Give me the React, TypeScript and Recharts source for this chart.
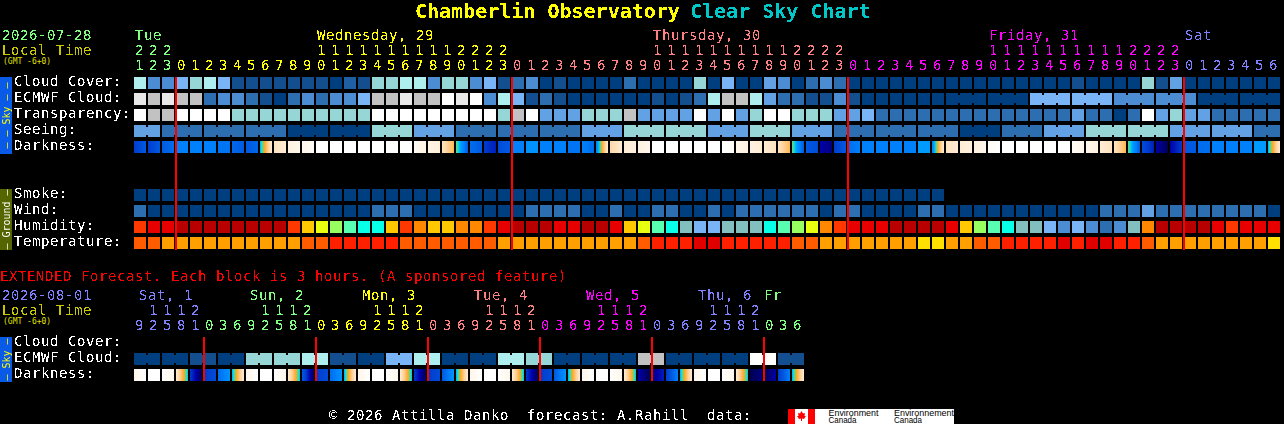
import React from "react";
import { ScatterChart, Scatter, XAxis, YAxis } from "recharts";

const FONT = "'DejaVu Sans Mono', monospace";
const TEXT = { fontFamily: FONT, fontSize: 14, letterSpacing: 0.57 };

// ---------- categories ----------
const mainHours = [21,22,23,0,1,2,3,4,5,6,7,8,9,10,11,12,13,14,15,16,17,18,19,20,21,22,23,0,1,2,3,4,5,6,7,8,9,10,11,12,13,14,15,16,17,18,19,20,21,22,23,0,1,2,3,4,5,6,7,8,9,10,11,12,13,14,15,16,17,18,19,20,21,22,23,0,1,2,3,4,5,6];
const mainDayLabels = ["Tue", "Wednesday, 29", "Thursday, 30", "Friday, 31", "Sat"];
const mainDayCols = [0, 13, 37, 61, 75];
const mainMidnights = [3, 27, 51, 75];
const mainRowNames = ["Cloud Cover:", "ECMWF Cloud:", "Transparency:", "Seeing:", "Darkness:", "", "", "Smoke:", "Wind:", "Humidity:", "Temperature:"];

const extHours = [9,12,15,18,21,0,3,6,9,12,15,18,21,0,3,6,9,12,15,18,21,0,3,6,9,12,15,18,21,0,3,6,9,12,15,18,21,0,3,6,9,12,15,18,21,0,3,6];
const extDayLabels = ["Sat, 1", "Sun, 2", "Mon, 3", "Tue, 4", "Wed, 5", "Thu, 6", "Fr"];
const extDayCols = [0.29, 8.22, 16.22, 24.22, 32.22, 40.22, 44.93];
const extMidnights = [5, 13, 21, 29, 37, 45];
const extRowNames = ["Cloud Cover:", "ECMWF Cloud:", "Darkness:"];

// ---------- series values (sky level 0 = clear ... 11 = overcast) ----------
const cloudCover = [8,4,4,6,7,8,6,1,1,1,1,1,1,1,0,2,1,7,7,8,8,4,7,7,4,6,1,3,4,0,1,0,0,0,0,3,0,0,0,0,7,0,6,0,0,5,4,0,3,4,3,0,0,0,0,0,0,0,0,0,0,0,0,0,0,0,0,1,0,0,0,0,7,1,5,0,0,0,0,0,0,0];
const ecmwfCloud = [10,9,10,9,9,3,4,4,3,1,0,3,4,3,4,4,6,9,9,10,9,9,11,10,11,4,8,6,1,3,1,0,0,0,0,0,0,1,0,1,3,8,9,9,8,5,3,3,1,1,4,1,0,0,0,0,0,0,0,0,0,0,0,0,6,6,6,6,6,6,4,4,4,4,4,4,0,0,0,0,0,0];
const transparency = [11,9,9,11,11,11,11,7,7,7,7,7,7,7,7,7,7,11,11,11,11,11,11,11,11,11,7,9,11,5,5,5,7,7,7,9,5,5,5,5,11,5,11,5,7,11,11,7,7,7,5,5,6,3,3,3,3,3,3,3,3,3,3,3,3,3,3,5,3,3,0,3,11,5,7,5,5,3,3,3,3,3];
const seeing = [5,5,3,3,3,3,3,3,3,3,3,0,0,0,0,0,0,7,7,7,5,5,5,3,3,3,3,3,3,3,3,3,5,5,5,7,7,7,7,7,7,5,5,5,7,7,7,5,5,5,3,3,3,3,3,3,3,3,3,0,0,0,3,3,3,5,5,5,7,7,7,7,7,7,5,5,5,5,5,5,3,3];
const darkStart = [
  2,2,3,4,4,4,3.7,3.4,3,5,
  8.5,9.5,10,11,11,11,11,11,11,11,
  10.5,9.7,8.5,6,3.5,2,2.5,4,4.5,4,
  4,3.7,4,4,8,9,9.5,11,11,11,
  11,11,11,10,9.5,9,8.5,6,3,1,
  2,3.5,4,4,4,4,4.7,4,8.5,9,
  9.5,10.5,11,11,11,11,11,10.5,10,9,
  8.5,6,2.5,1,1,3,3.5,4,4,4,
  4.7,5,
];
const darkEnd = [
  3,3,3.5,4,4,4,3.7,3,3.3,9,
  9,10,10.5,11,11,11,11,11,11,11,
  9.7,9.3,7,3,3,1.5,3,4,4.5,4,
  4,3.7,3.5,9,9,9.5,10,11,11,11,
  11,11,10.5,9.5,9,8.5,7,3,2.5,0.5,
  3,4,4,4,4,4,4.7,9,9,9.5,
  10,11,11,11,11,11,11,10,9.5,8.5,
  7,3,1.5,0,2,3,3.5,4,4,4,
  4.7,9,
];
const smoke = [0,0,0,0,0,0,0,0,0,0,0,0,0,0,0,0,0,0,0,0,0,0,0,0,0,0,0,0,0,0,0,0,0,0,0,0,0,0,0,0,0,0,0,0,0,0,0,0,0,0,0,0,0,0,0,0,0,0];
const wind = [3,0,0,0,0,0,0,0,0,0,0,0,0,0,0,0,0,3,3,3,0,0,0,0,0,0,0,0,3,3,3,3,0,0,3,0,0,3,3,0,0,3,0,3,3,3,3,3,3,0,3,3,0,0,0,0,3,3,0,0,0,0,0,0,0,0,0,0,0,3,3,3,5,3,3,3,3,3,3,3,3,0];
const humidity = ["c","b","b","a","a","a","a","a","a","a","a","c","e","f","g","h","i","i","e","c","d","e","e","d","d","c","b","a","a","a","b","b","a","a","b","e","f","h","i","j","k","k","j","j","j","i","h","g","f","d","c","b","b","b","a","a","a","a","b","e","g","h","i","j","j","k","l","k","l","m","l","j","d","a","a","a","a","b","c","b","b","b"];
const temperature = ["O","O","A","A","A","A","A","A","A","A","A","A","O","O","R","R","R","R","R","O","O","O","O","O","O","O","A","A","A","A","A","A","A","A","A","A","O","R","R","R","D","D","R","R","R","R","R","O","O","A","A","A","A","A","A","A","Y","Y","A","A","O","O","R","R","R","R","D","R","D","D","R","R","O","A","A","A","A","A","A","A","A","Y"];

const extEcmwf = [0,0,0,0,1,1,0,0,7,7,7,7,8,8,1,1,0,0,6,6,8,8,0,0,0,0,8,8,7,7,0,0,0,0,0,0,9,9,0,0,0,0,0,0,11,11,1,1];
const extDarkStart = [10,11,11,9,2,2,3.5,5,10,11,11,9,3,2,3.5,5,10,11,11,9,2,2,3,5,10,11,11,9,2,2,3,5,10,11,11,9,1,0.5,2,5,10,11,11,9,0,0,2,5];
const extDarkEnd = [11,11,10,5.2,0,2.5,4.5,9,11,11,10,5.2,0,2.5,4.5,9,11,11,10,5.2,0,2.5,4.5,9,11,11,10,5.2,0,2.5,4.5,9,11,11,10,5.2,0,1.5,4,9,11,11,10,5.2,0.5,1,4,9];

// ---------- palettes ----------
const skyColors = ["#003f7f","#134f8f","#1f60a5","#2c6eb0","#4b8cd2","#62a1e4","#79b5f6","#96d6d6","#aeeeee","#c2c2c2","#e8e8e8","#ffffff"];
const humidityColors: Record<string,string> = {a:"#b80000",b:"#e80000",c:"#ff3800",d:"#ff8800",e:"#ffc800",f:"#e8ff10",g:"#98ff60",h:"#58ffb0",i:"#08ffe8",j:"#82c0c0",k:"#79b5f6",l:"#4b8cd2",m:"#2c6eb0"};
const tempColors: Record<string,string> = {D:"#e00000",R:"#ff2000",O:"#ff5c00",A:"#ffa000",Y:"#ffe000"};
const darkStops: [number, number[]][] = [[0,[0,0,80]],[1,[0,0,170]],[2,[0,60,205]],[3,[0,90,225]],[4,[0,128,250]],[5,[0,165,255]],[5.5,[16,224,224]],[6,[128,208,96]],[6.5,[255,168,40]],[8,[255,216,168]],[9,[255,236,212]],[10,[255,246,234]],[11,[255,255,255]]];
const dayColors = ["#80ff80", "#ffff00", "#ff8080", "#ff00ff", "#8080ff"];
const OLIVE = "#c8c800";

const darkColor = (v: number) => {
  for (let k = 1; k < darkStops.length; k++) {
    const [b, cb] = darkStops[k];
    const [a, ca] = darkStops[k - 1];
    if (v <= b) {
      const t = (v - a) / (b - a);
      return `rgb(${ca.map((c, j) => Math.round(c + (cb[j] - c) * t)).join(",")})`;
    }
  }
  return "#ffffff";
};

const mainColor = (col: number) => (col < 3 ? dayColors[0] : col < 27 ? dayColors[1] : col < 51 ? dayColors[2] : col < 75 ? dayColors[3] : dayColors[4]);
const extColorSeq = [dayColors[4], dayColors[0], dayColors[1], dayColors[2], dayColors[3], dayColors[4], dayColors[0]];
const extColor = (col: number) => extColorSeq[col < 5 ? 0 : Math.floor((col - 5) / 8) + 1];
const extDayColor = (i: number) => extColorSeq[i];

// ---------- table building ----------
const CELL = 12;
const fromLevels = (values: (number | string)[], row: number, colorOf: (v: any) => string, joined?: (c: number) => boolean) =>
  values.map((v, col) => ({ col, row, fill: colorOf(v), join: joined ? joined(col) && col < values.length - 1 : false }));
const sky = (v: number) => skyColors[v];

const mainRows = [
  fromLevels(cloudCover, 0, sky),
  fromLevels(ecmwfCloud, 1, sky, (c) => c >= 58 && c % 3 !== 0),
  fromLevels(transparency, 2, sky),
  fromLevels(seeing, 3, sky, (c) => c % 3 !== 1),
  darkStart.map((s, col) => ({ col, row: 4, from: s, to: darkEnd[col] })),
  fromLevels(smoke, 7, sky),
  fromLevels(wind, 8, sky),
  fromLevels(humidity, 9, (v) => humidityColors[v]),
  fromLevels(temperature, 10, (v) => tempColors[v]),
];
const extRows = [
  fromLevels(extEcmwf, 1, sky, (c) => c % 2 === 0),
  extDarkStart.map((s, col) => ({ col, row: 2, from: s, to: extDarkEnd[col] })),
];

const Cell = (p: any) => {
  const { cx, cy, payload } = p;
  const x = cx, y = cy;
  if (payload.from !== undefined) {
    const id = `g${Math.round(x)}-${Math.round(y)}`;
    const offs = [0, 0.125, 0.25, 0.375, 0.5, 0.625, 0.75, 0.875, 1];
    return (
      <g>
        <linearGradient id={id} x1="0" x2="1" y1="0" y2="0">
          {offs.map((o) => (
            <stop key={o} offset={o} stopColor={darkColor(payload.from + (payload.to - payload.from) * o)} />
          ))}
        </linearGradient>
        <rect x={x} y={y} width={CELL} height={CELL} fill={`url(#${id})`} />
      </g>
    );
  }
  return (
    <g>
      <rect x={x} y={y} width={CELL} height={CELL} fill={payload.fill} />
      {payload.join && <rect x={x + CELL} y={y + 2} width={2} height={CELL - 4} fill={payload.fill} />}
    </g>
  );
};
const Blank = () => null;
const Midnight = (len: number) => (p: any) => <rect x={p.cx - 1} y={p.cy} width={2} height={len} fill="#ff0000" />;

const txt = (x: number, y: number, s: string, fill: string, extra: any = {}) => (
  <text x={x} y={y} fill={fill} {...TEXT} {...extra}>{s}</text>
);

const OnesTick = (base: number, hours: number[], colorOf: (c: number) => string) => (p: any) => {
  const c = p.payload.value;
  return <text x={p.x + 5.5} y={base} textAnchor="middle" fill={colorOf(c)} {...TEXT}>{hours[c] % 10}</text>;
};
const TensTick = (base: number, hours: number[], colorOf: (c: number) => string) => (p: any) => {
  const c = p.payload.value;
  return <text x={p.x + 5.5} y={base} textAnchor="middle" fill={colorOf(c)} {...TEXT}>{Math.floor(hours[c] / 10)}</text>;
};
const DayTick = (base: number, cols: number[], labels: string[], colorOf: (i: number) => string) => (p: any) => {
  const i = cols.indexOf(p.payload.value);
  return <text x={p.x + 1} y={base} fill={colorOf(i)} {...TEXT}>{labels[i]}</text>;
};
const RowTick = (names: string[]) => (p: any) => (
  <text x={14} y={p.y + 9} fill="#ffffff" {...TEXT}>{names[p.payload.value]}</text>
);

const W = 1284;
const axisCommon = { type: "number" as const, orientation: "top" as const, dataKey: "col", domain: [0, 82] as [number, number], axisLine: false, tickLine: false, tickSize: 0, interval: 0 as const, height: 15, allowDecimals: true };

const mainOnes = mainHours.map((_, i) => i);
const mainTens = mainOnes.filter((i) => mainHours[i] >= 10);
const extOnes = extHours.map((_, i) => i);
const extTens = extOnes.filter((i) => extHours[i] >= 10);
const mainDayColor = (i: number) => dayColors[i];
const anchorRows = (cols: number[]) => cols.map((col) => ({ col, row: 0 }));

const MainChart = () => (
  <ScatterChart width={W} height={260} margin={{ top: 32, right: 2, bottom: 7, left: 0 }} style={{ position: "absolute", left: 0, top: 0 }}>
    <XAxis {...axisCommon} xAxisId="ones" ticks={mainOnes} tick={OnesTick(70, mainHours, mainColor)} />
    <XAxis {...axisCommon} xAxisId="tens" ticks={mainTens} tick={TensTick(55, mainHours, mainColor)} />
    <XAxis {...axisCommon} xAxisId="days" ticks={mainDayCols} tick={DayTick(40, mainDayCols, mainDayLabels, mainDayColor)} />
    <YAxis type="number" dataKey="row" domain={[0, 11]} reversed width={134} axisLine={false} tickLine={false} interval={0} ticks={[0, 1, 2, 3, 4, 7, 8, 9, 10]} tick={RowTick(mainRowNames)} />
    <Scatter data={anchorRows(mainTens)} xAxisId="tens" isAnimationActive={false} shape={Blank} />
    <Scatter data={anchorRows(mainDayCols)} xAxisId="days" isAnimationActive={false} shape={Blank} />
    {mainRows.map((d, i) => (
      <Scatter key={i} data={d} xAxisId="ones" isAnimationActive={false} shape={Cell} />
    ))}
    <Scatter data={anchorRows(mainMidnights)} xAxisId="ones" isAnimationActive={false} shape={Midnight(173)} />
  </ScatterChart>
);

const ExtChart = () => (
  <ScatterChart width={W} height={424} margin={{ top: 292, right: 2, bottom: 39, left: 0 }} style={{ position: "absolute", left: 0, top: 0 }}>
    <XAxis {...axisCommon} xAxisId="ones" ticks={extOnes} tick={OnesTick(330, extHours, extColor)} />
    <XAxis {...axisCommon} xAxisId="tens" ticks={extTens} tick={TensTick(315, extHours, extColor)} />
    <XAxis {...axisCommon} xAxisId="days" ticks={extDayCols} tick={DayTick(300, extDayCols, extDayLabels, extDayColor)} />
    <YAxis type="number" dataKey="row" domain={[0, 3]} reversed width={134} axisLine={false} tickLine={false} interval={0} ticks={[0, 1, 2]} tick={RowTick(extRowNames)} />
    <Scatter data={anchorRows(extTens)} xAxisId="tens" isAnimationActive={false} shape={Blank} />
    <Scatter data={anchorRows(extDayCols)} xAxisId="days" isAnimationActive={false} shape={Blank} />
    {extRows.map((d, i) => (
      <Scatter key={i} data={d} xAxisId="ones" isAnimationActive={false} shape={Cell} />
    ))}
    <Scatter data={anchorRows(extMidnights)} xAxisId="ones" isAnimationActive={false} shape={Midnight(44)} />
  </ScatterChart>
);

const SideBar = ({ top, h, fill, color, label }: any) => (
  <g>
    <rect x={0} y={top} width={12} height={h} fill={fill} />
    <text transform={`translate(9.5,${top + h / 2}) rotate(-90)`} textAnchor="middle" fill={color} fontFamily={FONT} fontSize={10} style={{ whiteSpace: "pre" }}>{label}</text>
  </g>
);

const Overlay = () => (
  <svg width={W} height={424} style={{ position: "absolute", left: 0, top: 0 }}>
    {txt(415, 18, "Chamberlin Observatory", "#ffff00", { fontWeight: "bold", fontSize: 20, letterSpacing: 0 })}
    {txt(690, 18, "Clear Sky Chart", "#00c8c8", { fontWeight: "bold", fontSize: 20, letterSpacing: 0 })}
    {txt(2, 40, "2026-07-28", dayColors[0])}
    {txt(2, 55, "Local Time", OLIVE)}
    <SideBar top={77} h={77} fill="#0a5ae8" color="#ffff00" label={"\u2013 \u2013 Sky \u2013 \u2013"} />
    <SideBar top={189} h={61} fill="#556600" color="#ffffff" label={"\u2013 Ground \u2013"} />
    {txt(0, 281, "EXTENDED Forecast. Each block is 3 hours. (A sponsored feature)", "#ff0000")}
    {txt(2, 300, "2026-08-01", dayColors[4])}
    {txt(2, 315, "Local Time", OLIVE)}
    <SideBar top={337} h={45} fill="#0a5ae8" color="#ffff00" label={"\u2013 Sky \u2013"} />
    {txt(329, 420, "\u00a9 2026 Attilla Danko  forecast: A.Rahill  data:", "#ffffff", { style: { whiteSpace: "pre" } })}
    <rect x={788} y={409} width={166} height={15} fill="#ffffff" />
    <rect x={788} y={409} width={7} height={15} fill="#ff0000" />
    <rect x={808} y={409} width={7} height={15} fill="#ff0000" />
    <polygon points="801.5,411 803,413.5 805,413 804.5,416 806,416 804,419 802,418.5 802,421 801,421 801,418.5 799,419 797,416 798.5,416 798,413 800,413.5" fill="#ff0000" />
  </svg>
);

const SmallText = () => (
  <svg width={W} height={424} style={{ position: "absolute", left: 0, top: 0 }}>
    <text x={3} y={64} fill="#e0e000" fontFamily={FONT} fontSize={8}>(GMT -6+0)</text>
    <text x={3} y={324} fill="#e0e000" fontFamily={FONT} fontSize={8}>(GMT -6+0)</text>
    {[["Environment", 828.5, 415.5, 50], ["Canada", 828.5, 423, 28], ["Environnement", 894, 415.5, 60], ["Canada", 894, 423, 28]].map(([s, x, y, l]: any, i) => (
      <text key={i} x={x} y={y} fill="#000000" fontFamily="'Liberation Sans', sans-serif" fontSize={9} textLength={l} lengthAdjust="spacingAndGlyphs">{s}</text>
    ))}
  </svg>
);

export default function App() {
  return (
    <div style={{ position: "fixed", left: 0, top: 0, width: W, height: 424, background: "#000", overflow: "hidden" }}>
      <svg width={0} height={0} style={{ position: "absolute" }}>
        <filter id="px" x="0" y="0" width="100%" height="100%" colorInterpolationFilters="sRGB">
          <feComponentTransfer>
            <feFuncA type="discrete" tableValues="0 0 1 1" />
          </feComponentTransfer>
        </filter>
      </svg>
      <div style={{ position: "absolute", left: 0, top: 0, width: W, height: 424, filter: "url(#px)" }}>
        <Overlay />
        <MainChart />
        <ExtChart />
      </div>
      <SmallText />
    </div>
  );
}
